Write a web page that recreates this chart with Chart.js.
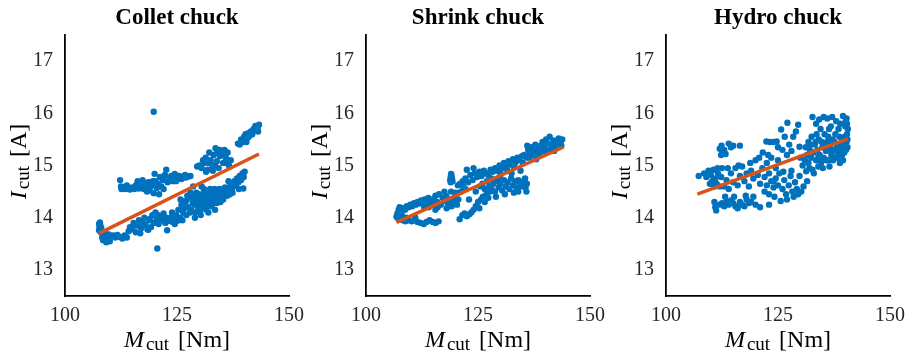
<!DOCTYPE html>
<html>
<head>
<meta charset="utf-8">
<script src="https://cdn.jsdelivr.net/npm/chart.js@4"></script>
<style>
  html, body { margin: 0; padding: 0; background: #fff; }
  #wrap { position: relative; width: 914px; height: 359px; overflow: hidden; }
  .panel { position: absolute; top: 0; width: 312px; height: 359px; }
</style>
</head>
<body>
<div id="wrap">
  <div class="panel" style="left:0px"><canvas id="c1"></canvas></div>
  <div class="panel" style="left:301px"><canvas id="c2"></canvas></div>
  <div class="panel" style="left:601px"><canvas id="c3"></canvas></div>
</div>
<script>
const panelTitles = ["Collet chuck", "Shrink chuck", "Hydro chuck"];
const xTicks = [100, 125, 150];
const yTicks = [13, 14, 15, 16, 17];

// [M_cut in Nm, I_cut in A]
const colletPoints = [
  [107.6,13.88],[107.7,13.82],[107.6,13.76],[107.8,13.91],[108.0,13.72],[107.9,13.85],[108.1,13.8],
  [108.3,13.62],[108.5,13.57],[108.8,13.66],[109.2,13.53],[109.5,13.6],[109.8,13.68],[110.3,13.64],
  [110.8,13.66],[111.2,13.62],[111.7,13.67],[112.3,13.63],[112.8,13.6],[113.3,13.66],[113.8,13.62],
  [109.0,13.7],[110.0,13.55],
  [114.2,13.74],[114.5,13.82],[115.0,13.78],[115.3,13.9],[115.8,13.72],[116.2,13.85],[116.5,13.95],
  [117.0,13.8],[117.3,13.92],[117.7,14.0],[118.0,13.86],[118.4,13.78],[118.8,13.95],[119.2,13.82],
  [119.5,14.05],[119.8,13.9],[120.2,14.1],[120.5,13.98],[120.9,13.88],[121.3,14.02],[121.6,13.95],
  [122.0,14.08],[122.4,13.9],[122.8,13.76],[123.2,13.94],[123.6,14.0],[124.0,13.92],[124.5,13.88],
  [118.6,13.77],[116.8,13.7],[124.4,13.97],[125.1,13.94],
  [115.6,13.85],[117.5,13.88],[119.0,13.98],[120.8,14.05],[122.6,14.0],[123.9,14.1],
  [112.3,14.72],[112.5,14.6],[112.6,14.55],[113.0,14.58],[113.5,14.55],[114.0,14.57],[114.5,14.54],
  [115.0,14.58],[115.5,14.55],[116.0,14.6],[116.5,14.56],[117.0,14.62],[117.3,14.72],[117.6,14.55],
  [118.0,14.65],[118.3,14.5],[118.6,14.68],[119.0,14.58],[119.4,14.62],[119.8,14.47],[120.2,14.7],
  [120.5,14.57],[120.8,14.65],[121.2,14.78],[121.5,14.6],[121.9,14.72],[122.3,14.82],[122.6,14.92],
  [122.9,14.68],[123.3,14.75],[123.7,14.8],[124.1,14.7],[124.5,14.84],[125.0,14.76],[125.5,14.8],
  [126.0,14.74],[126.5,14.78],[127.0,14.77],[127.5,14.79],[128.0,14.8],[120.0,14.84],[118.8,14.52],
  [116.2,14.7],[121.0,14.45],[122.0,14.55],
  [113.8,14.62],[115.8,14.62],[117.8,14.6],[119.6,14.7],[124.8,14.7],[126.8,14.82],
  [129.5,14.98],[130.0,15.0],[130.5,14.95],[131.0,15.05],[131.4,15.15],[131.8,14.92],[132.2,15.25],
  [132.5,15.1],[132.9,15.0],[133.2,15.2],[133.6,15.33],[133.9,15.08],[134.3,14.95],[134.6,15.18],
  [134.9,15.28],[135.3,15.05],[135.6,15.3],[135.9,15.15],[136.3,15.25],[136.6,15.0],[137.0,15.1],
  [133.0,14.9],[134.0,15.25],[131.5,14.88],
  [130.8,15.1],[132.0,15.05],[133.5,15.0],[135.0,15.2],[136.0,15.05],[134.5,15.3],
  [124.8,14.05],[125.3,14.15],[125.7,14.0],[126.0,14.25],[126.4,14.1],[126.8,14.3],[127.1,14.05],
  [127.5,14.2],[127.8,14.38],[128.2,14.15],[128.5,14.28],[128.8,14.42],[129.1,14.1],[129.4,14.32],
  [129.7,14.2],[130.0,14.45],[130.3,14.05],[130.6,14.35],[130.9,14.25],[131.2,14.5],[131.5,14.15],
  [131.8,14.4],[132.1,14.3],[132.4,14.55],[132.7,14.22],[133.0,14.45],[133.3,14.35],[133.6,14.5],
  [133.9,14.28],[134.2,14.42],[134.5,14.55],[134.8,14.38],[135.1,14.5],[135.4,14.45],[135.7,14.58],
  [136.0,14.48],[136.4,14.52],[136.8,14.45],[137.2,14.55],[129.0,14.0],[128.0,14.48],[127.3,14.42],
  [131.0,14.55],[132.0,14.1],[133.5,14.15],[130.5,14.6],[126.2,13.95],[125.8,14.35],[128.6,14.6],
  [126.6,14.18],[127.0,14.32],[127.9,14.1],[128.4,14.35],[129.3,14.48],[129.9,14.3],[130.4,14.2],
  [130.8,14.4],[131.3,14.3],[131.7,14.22],[132.2,14.45],[132.6,14.38],[133.1,14.28],[133.4,14.55],
  [133.8,14.42],[134.0,14.35],[134.4,14.5],[134.7,14.3],[135.0,14.42],[135.3,14.35],[135.8,14.5],
  [136.2,14.42],[136.6,14.58],[137.4,14.48],[130.1,14.12],[129.6,14.38],[128.9,14.25],
  [137.5,14.6],[137.8,14.7],[138.1,14.62],[138.4,14.75],[138.7,14.68],[139.0,14.8],[139.3,14.72],
  [139.6,14.85],[139.9,14.78],[140.1,14.88],[139.8,14.56],[138.8,14.55],[137.0,14.65],[136.5,14.7],
  [138.6,15.42],[139.0,15.4],[139.3,15.5],[139.7,15.45],[140.0,15.55],[140.3,15.6],[140.6,15.52],
  [140.9,15.62],[141.2,15.58],[141.5,15.65],[141.8,15.6],[142.1,15.7],[142.4,15.68],[142.7,15.75],
  [143.0,15.72],[143.3,15.78],[143.1,15.65],[142.5,15.76],[140.5,15.45],[141.0,15.55],
  [119.8,16.03],[120.6,13.41]
];

const shrinkPoints = [
  [106.8,14.02],[107.0,14.08],[107.3,14.15],[107.5,14.2],[107.2,13.98],[107.8,14.12],[108.0,14.05],
  [108.3,14.18],[108.7,14.15],[109.1,14.22],[109.5,14.2],[109.9,14.25],[110.3,14.22],[110.7,14.28],
  [111.1,14.25],[111.5,14.3],[111.9,14.27],[112.3,14.33],[112.7,14.3],[113.1,14.35],[113.5,14.28],
  [113.9,14.38],[114.3,14.32],[114.7,14.25],[115.1,14.36],[115.5,14.42],[115.9,14.3],[116.3,14.45],
  [116.7,14.25],[117.1,14.38],[117.5,14.32],[117.9,14.42],[118.3,14.28],[118.7,14.35],[119.1,14.22],
  [119.5,14.3],[119.9,14.4],[120.3,14.25],[120.6,14.35],[114.0,14.2],[116.0,14.2],[118.0,14.18],
  [115.5,14.15],[117.5,14.5],[113.0,14.2],[120.0,14.48],[119.0,14.5],
  [108.2,13.95],[108.8,13.93],[109.5,13.95],[110.2,13.93],[110.9,13.95],[111.5,13.92],[112.2,13.9],
  [112.9,13.88],[113.5,13.92],[114.2,13.95],[114.9,13.92],[115.5,13.9],[116.2,13.93],[109.0,14.0],
  [111.0,14.0],
  [118.8,14.72],[118.9,14.78],[119.0,14.84],[119.2,14.75],[119.1,14.8],[118.9,14.68],[119.3,14.7],
  [120.9,13.97],[121.5,14.05],[122.0,14.08],[122.5,14.03],[123.0,14.06],[123.5,14.1],[124.0,14.15],
  [124.5,14.22],[125.0,14.3],[125.3,14.18],[125.7,14.35],[126.1,14.4],[126.5,14.3],[126.9,14.45],
  [127.3,14.38],[127.7,14.5],[121.2,14.5],[121.7,14.6],[122.2,14.55],[120.5,14.62],
  [121.0,14.65],[121.6,14.7],[122.2,14.75],[122.8,14.68],[123.3,14.82],[123.8,14.72],[124.3,14.85],
  [124.8,14.78],[125.3,14.88],[125.8,14.8],[126.3,14.9],[126.8,14.85],[127.3,14.82],[127.8,14.92],
  [128.3,14.88],[128.8,14.95],[129.3,14.9],[129.8,15.0],[130.3,14.95],[130.8,15.05],[131.3,15.0],
  [131.8,15.08],[132.3,15.02],[132.8,15.12],[133.3,15.05],[133.8,15.15],[134.3,15.1],[134.8,15.18],
  [122.5,14.92],[124.0,14.95],[125.5,14.6],[128.0,14.75],[130.0,14.82],
  [130.0,14.9],[131.5,14.92],[133.0,14.98],[135.0,15.05],[136.5,15.15],[137.5,15.2],[139.5,15.28],
  [129.5,14.75],[132.5,14.85],[134.5,14.9],[126.0,14.65],[124.5,14.5],[123.0,14.35],[134.0,14.5],
  [135.8,14.5],
  [127.5,14.6],[128.0,14.55],[128.4,14.65],[128.8,14.5],[129.2,14.7],[129.6,14.58],[130.0,14.65],
  [130.4,14.52],[130.8,14.72],[131.2,14.6],[131.6,14.68],[132.0,14.55],[132.4,14.75],[132.8,14.62],
  [133.2,14.7],[133.6,14.58],[134.0,14.72],[134.4,14.65],[134.8,14.6],[135.2,14.7],[135.6,14.58],
  [135.9,14.65],[135.5,14.75],[131.0,14.45],[133.0,14.48],[129.0,14.4],[126.5,14.55],[127.0,14.7],
  [135.3,15.2],[135.8,15.15],[136.2,15.3],[136.6,15.22],[137.0,15.35],[137.4,15.25],[137.8,15.4],
  [138.2,15.3],[138.6,15.2],[139.0,15.38],[139.4,15.45],[139.8,15.35],[140.2,15.5],[140.6,15.42],
  [141.0,15.55],[141.4,15.4],[141.8,15.48],[142.2,15.35],[142.6,15.45],[143.0,15.52],[143.4,15.42],
  [143.8,15.5],[143.6,15.38],[140.0,15.25],[138.0,15.12],[136.0,15.38],[142.0,15.28],[141.0,15.3]
];

const hydroPoints = [
  [107.3,14.8],[108.5,14.85],[109.0,14.78],[109.5,14.9],[110.0,14.82],[110.3,14.7],[110.6,14.92],
  [111.0,14.75],[111.3,14.65],[111.6,14.85],[112.0,14.6],[112.3,14.78],[110.8,14.6],[109.8,14.65],
  [111.5,14.95],[112.5,14.95],
  [110.8,14.3],[111.0,14.2],[111.2,14.14],[112.0,14.25],[112.5,14.28],[113.0,14.22],[113.5,14.3],
  [114.0,14.25],[114.5,14.33],[115.0,14.28],[115.5,14.22],[116.0,14.18],[116.5,14.3],[117.0,14.25],
  [117.5,14.22],[118.0,14.35],[118.5,14.28],[119.0,14.3],[119.5,14.4],[120.0,14.25],[121.0,14.2],
  [117.8,14.42],[115.2,14.4],[113.2,14.4],
  [112.0,15.32],[112.3,15.2],[112.6,15.28],[113.0,15.3],[113.3,15.22],[114.0,15.42],[114.5,15.35],
  [115.0,15.38],[116.5,15.38],[112.4,15.38],
  [113.0,14.6],[113.5,14.72],[114.0,14.55],[114.5,14.85],[115.0,14.68],[115.5,14.95],[116.0,14.62],
  [116.5,14.8],[117.0,14.98],[117.5,14.7],[118.0,14.85],[118.5,14.6],[119.0,14.9],[119.5,14.75],
  [120.0,15.1],[120.5,14.82],[121.0,14.65],[121.5,14.95],[122.0,14.78],[122.5,15.05],[123.0,14.85],
  [123.5,15.15],[124.0,14.7],[124.5,14.95],[125.0,15.1],[113.8,14.95],[116.2,15.0],[118.8,15.05],
  [120.8,15.15],[122.8,15.2],
  [121.6,15.25],[122.4,15.46],[123.2,15.45],[124.0,15.45],[124.7,15.46],[125.7,15.69],[126.5,15.55],
  [127.1,15.82],[127.5,15.4],[128.4,15.55],[129.0,15.65],[129.5,15.78],[129.8,15.36],[126.0,15.3],
  [127.0,15.2],[125.0,15.35],[128.0,15.28],
  [122.0,14.5],[122.5,14.62],[123.0,14.45],[123.5,14.7],[124.0,14.58],[124.5,14.75],[125.0,14.62],
  [125.3,14.85],[125.6,14.32],[126.0,14.55],[126.4,14.72],[126.8,14.45],[127.0,14.35],[127.4,14.62],
  [127.8,14.8],[128.2,14.5],[128.5,14.4],[128.8,14.68],[129.2,14.55],[129.5,14.45],[129.8,14.8],
  [130.2,14.5],[130.7,14.6],[126.2,14.88],[128.0,14.9],[124.2,14.4],[123.0,14.25],
  [131.0,15.1],[131.3,14.89],[131.5,15.2],[131.8,15.05],[132.1,15.3],[132.4,15.15],[132.7,14.92],
  [133.0,15.25],[133.2,15.4],[133.5,15.1],[133.8,15.3],[134.1,15.5],[134.3,15.2],[134.6,15.05],
  [134.9,15.35],[135.2,15.15],[135.4,15.6],[135.7,15.28],[136.0,15.45],[136.3,15.1],[136.6,15.35],
  [136.9,15.2],[137.2,15.5],[137.5,15.3],[137.8,15.15],[138.1,15.4],[138.4,15.25],[138.7,15.55],
  [139.0,15.35],[139.3,15.2],[139.6,15.5],[139.9,15.4],[140.2,15.3],[140.4,15.6],[140.3,15.45],
  [140.0,15.75],[140.3,15.9],[140.1,15.85],[139.5,15.95],[138.5,15.7],[137.1,15.93],[136.0,15.9],
  [135.2,15.93],[134.2,15.88],[132.7,15.93],[133.5,15.8],[132.5,15.55],[131.8,15.45],[134.5,15.7],
  [136.8,15.75],[138.0,15.85],[137.8,15.6],[135.0,14.95],[134.0,14.98],[132.0,14.95],[136.5,14.98],
  [138.8,15.05],[139.8,15.25],[140.5,15.35],[133.0,14.85],[131.5,14.7],[130.5,15.0],[130.0,15.15],
  [133.4,15.45],[134.0,15.15],[134.8,15.45],[135.5,15.4],[136.2,15.55],[136.7,15.45],[137.0,15.25],
  [137.6,15.45],[138.0,15.3],[138.6,15.4],[139.2,15.3],[139.5,15.1],[139.9,15.55],[140.5,15.5],
  [140.6,15.7],[138.3,15.15],[137.3,15.1],[135.8,15.1],[133.6,15.6],[131.2,15.35],[132.3,15.4],
  [136.4,15.7],[138.9,15.8],[135.9,15.3],[140.4,15.8]
];

// end points of the fitted lines
const colletFit = [[107.6, 13.7], [143.3, 15.22]];
const shrinkFit = [[106.8, 13.91], [144.0, 15.35]];
const hydroFit = [[107.0, 14.45], [140.6, 15.51]];

const serif = '"Liberation Serif", "Times New Roman", serif';

// titles and axis labels with subscripts, drawn by hand
const labelPlugin = {
    id: "labels",
    afterDraw(chart, args, opts) {
        const ctx = chart.ctx;
        const area = chart.chartArea;
        const cx = (area.left + area.right) / 2;
        const cy = (area.top + area.bottom) / 2;

        ctx.save();
        ctx.fillStyle = "#000";
        ctx.textBaseline = "alphabetic";
        ctx.font = "bold 23px " + serif;
        ctx.textAlign = "center";
        ctx.fillText(opts.title, cx, 24);
        ctx.restore();

        drawSubLabel(ctx, "M", "cut", "[Nm]", cx, 347, 0);
        drawSubLabel(ctx, "I", "cut", "[A]", 26, cy - 4, -Math.PI / 2);
    }
};

function drawSubLabel(ctx, main, sub, rest, x, y, angle) {
    const mainFont = "italic 24px " + serif;
    const subFont = "19px " + serif;
    const restFont = "24px " + serif;

    ctx.save();
    ctx.translate(x, y);
    ctx.rotate(angle);
    ctx.fillStyle = "#000";
    ctx.textAlign = "left";
    ctx.textBaseline = "alphabetic";

    ctx.font = mainFont;
    const w1 = ctx.measureText(main).width;
    ctx.font = subFont;
    const w2 = ctx.measureText(sub).width;
    ctx.font = restFont;
    const w3 = ctx.measureText(rest).width;
    const gap = 9;
    const total = w1 + 2 + w2 + gap + w3;

    let pos = -total / 2;
    ctx.font = mainFont;
    ctx.fillText(main, pos, 0);
    pos += w1 + 2;
    ctx.font = subFont;
    ctx.fillText(sub, pos, 3);
    pos += w2 + gap;
    ctx.font = restFont;
    ctx.fillText(rest, pos, 0);
    ctx.restore();
}

function makeConfig(title, points, fit) {
    const tickStyle = { family: serif, size: 20 };
    return {
        type: "scatter",
        data: {
            datasets: [
                {
                    type: "line",
                    data: fit.map(p => ({ x: p[0], y: p[1] })),
                    borderColor: "#D95319",
                    borderWidth: 3.4,
                    pointRadius: 0,
                    fill: false,
                    order: 0
                },
                {
                    data: points.map(p => ({ x: p[0], y: p[1] })),
                    pointRadius: 3.2,
                    pointBackgroundColor: "#0072BD",
                    pointBorderWidth: 0,
                    order: 1
                }
            ]
        },
        options: {
            responsive: false,
            animation: false,
            layout: { padding: { top: 35, right: 22, left: 0, bottom: 0 } },
            plugins: {
                legend: { display: false },
                tooltip: { enabled: false },
                labels: { title: title }
            },
            scales: {
                x: {
                    type: "linear",
                    min: 100,
                    max: 150,
                    afterBuildTicks: s => { s.ticks = xTicks.map(v => ({ value: v })); },
                    afterFit: s => { s.height = 63; },
                    grid: { display: false, drawTicks: false },
                    border: { display: true, color: "#000", width: 1.8 },
                    ticks: { font: tickStyle, color: "#262626", padding: 8, maxRotation: 0 }
                },
                y: {
                    type: "linear",
                    min: 12.5,
                    max: 17.5,
                    afterBuildTicks: s => { s.ticks = yTicks.map(v => ({ value: v })); },
                    afterFit: s => { s.width = 65; },
                    grid: { display: false, drawTicks: false },
                    border: { display: true, color: "#000", width: 1.8 },
                    ticks: { font: tickStyle, color: "#262626", padding: 12 }
                }
            }
        },
        plugins: [labelPlugin]
    };
}

const panels = [
    ["c1", colletPoints, colletFit],
    ["c2", shrinkPoints, shrinkFit],
    ["c3", hydroPoints, hydroFit]
];

panels.forEach((p, i) => {
    const canvas = document.getElementById(p[0]);
    canvas.width = 312;
    canvas.height = 359;
    new Chart(canvas, makeConfig(panelTitles[i], p[1], p[2]));
});
</script>
</body>
</html>
